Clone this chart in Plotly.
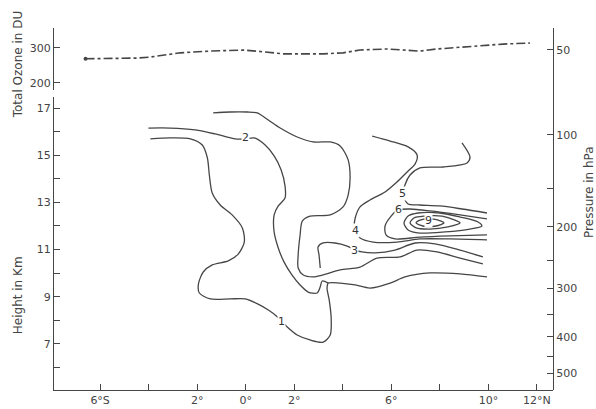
import plotly.graph_objects as go

# ---------------- data ----------------
# Total ozone (DU) vs latitude (deg, negative = S)
OZ_LAT = [-6.60, -4.47, -3.93, -2.70, -1.46, -0.10, 0.72, 1.54, 2.37, 3.19, 4.01,
          4.71, 5.82, 7.18, 7.88, 8.95, 9.94, 10.60, 11.71]
OZ_DU = [269, 271, 274, 286, 291, 294, 289, 283, 283, 283, 286,
         294, 297, 291, 297, 303, 309, 311, 314]

# Contour lines: latitude (deg) and height (km)
C1_LAT = [-3.93, -3.11, -2.28, -1.79, -1.58, -1.50, -1.38, -1.05, -0.56, -0.14, -0.06,
          -0.31, -0.72, -1.38, -1.75, -1.95, -1.91, -1.46, -0.64, -0.02, 0.51, 0.93,
          1.26, 1.71, 2.12, 2.65, 3.19, 3.48, 3.52, 3.44, 3.35, 3.40, 3.89, 4.51,
          5.12, 5.95, 6.56, 7.59, 8.83, 9.94]
C1_KM = [15.69, 15.73, 15.69, 15.43, 14.88, 14.16, 13.40, 12.89, 12.47, 11.92, 11.32,
         10.81, 10.52, 10.35, 10.05, 9.54, 9.16, 8.91, 8.91, 8.91, 8.69, 8.44,
         8.19, 7.72, 7.38, 7.17, 7.08, 7.38, 8.10, 8.86, 9.37, 9.58, 9.58, 9.50,
         9.37, 9.58, 9.84, 10.01, 9.97, 9.84]

C2_LAT = [-4.01, -3.11, -2.08, -1.26, -0.43, -0.02, 0.35, 0.80, 1.17, 1.46, 1.62,
          1.62, 1.34, 1.17, 1.17, 1.34, 1.58, 1.91, 2.24, 2.57, 2.94, 3.07, 3.15, 3.40]
C2_KM = [16.15, 16.15, 16.07, 15.90, 15.69, 15.69, 15.73, 15.43, 14.97, 14.37, 13.69,
         13.19, 12.85, 12.47, 11.75, 11.07, 10.47, 9.92, 9.50, 9.20, 9.16, 9.42, 9.67, 9.58]

C3_LAT = [-1.34, -0.64, 0.06, 0.47, 0.93, 1.42, 2.12, 2.78, 3.48, 3.89, 4.22, 4.30,
          4.22, 4.01, 3.48, 2.65, 2.33, 2.24, 2.16, 2.16, 2.37, 2.78, 3.15, 3.89,
          4.71, 5.41, 6.36, 7.06, 7.88, 8.83, 9.77]
C3_KM = [16.79, 16.83, 16.83, 16.79, 16.49, 16.15, 15.77, 15.56, 15.56, 15.39, 14.80, 14.03,
         13.31, 12.81, 12.47, 12.42, 12.21, 11.62, 10.77, 10.22, 9.92, 9.84, 9.92, 10.14,
         10.26, 10.64, 10.69, 10.98, 10.90, 10.64, 10.39]

C3B_LAT = [3.07, 3.02, 2.98, 3.19, 3.68, 4.18, 4.51, 4.79, 5.33, 6.15, 6.98, 7.80, 8.83, 9.77]
C3B_KM = [10.22, 10.77, 11.11, 11.28, 11.28, 11.15, 10.98, 10.90, 10.86, 10.98, 11.28,
          11.24, 10.98, 10.69]

C4_LAT = [5.21, 5.95, 6.69, 7.06, 6.98, 6.65, 6.23, 5.74, 5.12, 4.71, 4.51, 4.47, 4.51,
          4.71, 5.25, 6.23, 7.18, 8.42, 9.94]
C4_KM = [15.81, 15.60, 15.35, 15.01, 14.63, 14.29, 13.86, 13.44, 13.10, 12.81, 12.34, 12.00,
         11.75, 11.49, 11.32, 11.32, 11.45, 11.45, 11.41]

C5_LAT = [8.91, 9.24, 9.12, 8.13, 7.18, 6.77, 6.56, 6.48, 6.69, 7.18, 8.00, 8.91, 9.94]
C5_KM = [15.52, 14.92, 14.67, 14.50, 14.46, 14.16, 13.74, 13.31, 12.93, 12.89, 12.85, 12.72, 12.55]

C6_LAT = [9.94, 8.83, 7.59, 6.77, 6.28, 5.99, 5.74, 5.78, 6.15, 7.18, 8.42, 9.94]
C6_KM = [12.30, 12.47, 12.64, 12.72, 12.68, 12.42, 12.00, 11.62, 11.45, 11.53, 11.58, 11.62]

C7_LAT = [6.52, 6.69, 7.10, 8.00, 8.83, 9.57, 9.73, 9.24, 8.21, 7.18, 6.69, 6.52]
C7_KM = [12.13, 12.42, 12.55, 12.55, 12.38, 12.17, 12.00, 11.87, 11.75, 11.70, 11.83, 12.13]

C8_LAT = [6.77, 6.93, 7.35, 8.09, 8.62, 8.83, 8.33, 7.59, 7.02, 6.77]
C8_KM = [12.13, 12.34, 12.42, 12.42, 12.25, 12.13, 11.96, 11.87, 11.92, 12.13]

C9_LAT = [7.02, 7.18, 7.67, 8.05, 8.17, 7.84, 7.30, 7.02]
C9_KM = [12.13, 12.25, 12.30, 12.21, 12.13, 12.00, 12.00, 12.13]

# Contour label texts and positions (lat, km)
LABEL_TEXT = ["1", "2", "3", "4", "5", "6", "9"]
LABEL_LAT = [1.46, -0.02, 4.47, 4.51, 6.44, 6.28, 7.51]
LABEL_KM = [7.97, 15.73, 10.98, 11.79, 13.36, 12.68, 12.25]

# Axis ticks
X_TICKS = [-6, -4, -2, 0, 2, 4, 6, 8, 10, 12]
X_TICKTEXT = ["6°S", "", "2°", "0°", "2°", "", "6°", "", "10°", "12°N"]
H_TICKS = [6, 7, 8, 9, 10, 11, 12, 13, 14, 15, 16, 17]
H_TICKTEXT = ["", "7", "", "9", "", "11", "", "13", "", "15", "", "17"]
OZ_TICKS = [200, 300]
PRESSURE_HPA = ["50", "100", "", "200", "", "300", "", "400", "", "500"]
PRESSURE_HEIGHT_KM = [19.46, 15.86, 13.61, 11.96, 10.52, 9.37, 8.23, 7.30, 6.45, 5.77]

# ---------------- figure ----------------
INK = "#464646"
FONT = "DejaVu Sans"

fig = go.Figure()

fig.add_trace(go.Scatter(x=OZ_LAT, y=OZ_DU, mode="lines", xaxis="x", yaxis="y2",
                         line=dict(color=INK, width=1.6, dash="dashdot"),
                         showlegend=False, hoverinfo="skip"))
fig.add_trace(go.Scatter(x=OZ_LAT[:1], y=OZ_DU[:1], mode="markers", xaxis="x", yaxis="y2",
                         marker=dict(color=INK, size=4), showlegend=False, hoverinfo="skip"))

for lat, km in [(C1_LAT, C1_KM), (C2_LAT, C2_KM), (C3_LAT, C3_KM), (C3B_LAT, C3B_KM),
                (C4_LAT, C4_KM), (C5_LAT, C5_KM), (C6_LAT, C6_KM), (C7_LAT, C7_KM),
                (C8_LAT, C8_KM), (C9_LAT, C9_KM)]:
    fig.add_trace(go.Scatter(x=lat, y=km, mode="lines", xaxis="x", yaxis="y",
                             line=dict(color=INK, width=1.3, shape="spline", smoothing=0.8),
                             showlegend=False, hoverinfo="skip"))

# invisible trace to realise the pressure axis
fig.add_trace(go.Scatter(x=[0], y=[10], mode="markers", xaxis="x", yaxis="y3",
                         marker=dict(opacity=0), showlegend=False, hoverinfo="skip"))

for t, la, k in zip(LABEL_TEXT, LABEL_LAT, LABEL_KM):
    fig.add_annotation(x=la, y=k, xref="x", yref="y", text=t, showarrow=False,
                       font=dict(family=FONT, size=11, color="#333"),
                       bgcolor="white", borderpad=0)

axis_common = dict(showgrid=False, zeroline=False, showline=True, linecolor=INK,
                   linewidth=1.3, ticks="inside", ticklen=6, tickcolor=INK, tickwidth=1.2,
                   automargin=False,
                   tickfont=dict(family=FONT, size=11, color="#444"))

fig.update_layout(
    width=596, height=409,
    margin=dict(l=54, r=43, t=28, b=19),
    paper_bgcolor="white", plot_bgcolor="rgba(0,0,0,0)",
    xaxis=dict(range=[-7.9, 12.66], tickmode="array", tickvals=X_TICKS,
               ticktext=X_TICKTEXT, anchor="y", **axis_common),
    yaxis=dict(domain=[0, 0.809], range=[5.05, 17.46], tickmode="array",
               tickvals=H_TICKS, ticktext=H_TICKTEXT, anchor="x", **axis_common),
    yaxis2=dict(domain=[0.829, 1.0], range=[180, 357], tickmode="array",
                tickvals=OZ_TICKS, anchor="x", **axis_common),
    yaxis3=dict(domain=[0, 1.0], range=[5.05, 20.39], tickmode="array",
                tickvals=PRESSURE_HEIGHT_KM, ticktext=PRESSURE_HPA, anchor="x",
                side="right", **axis_common),
)

fig.add_annotation(x=-0.072, y=0.90, xref="paper", yref="paper", text="Total Ozone in DU",
                   textangle=-90, showarrow=False, xanchor="center", yanchor="middle",
                   font=dict(family=FONT, size=12, color="#444"))
fig.add_annotation(x=-0.072, y=0.262, xref="paper", yref="paper", text="Height in Km",
                   textangle=-90, showarrow=False, xanchor="center", yanchor="middle",
                   font=dict(family=FONT, size=12, color="#444"))
fig.add_annotation(x=1.072, y=0.547, xref="paper", yref="paper", text="Pressure in hPa",
                   textangle=-90, showarrow=False, xanchor="center", yanchor="middle",
                   font=dict(family=FONT, size=12, color="#444"))

fig.write_html("out.html")
